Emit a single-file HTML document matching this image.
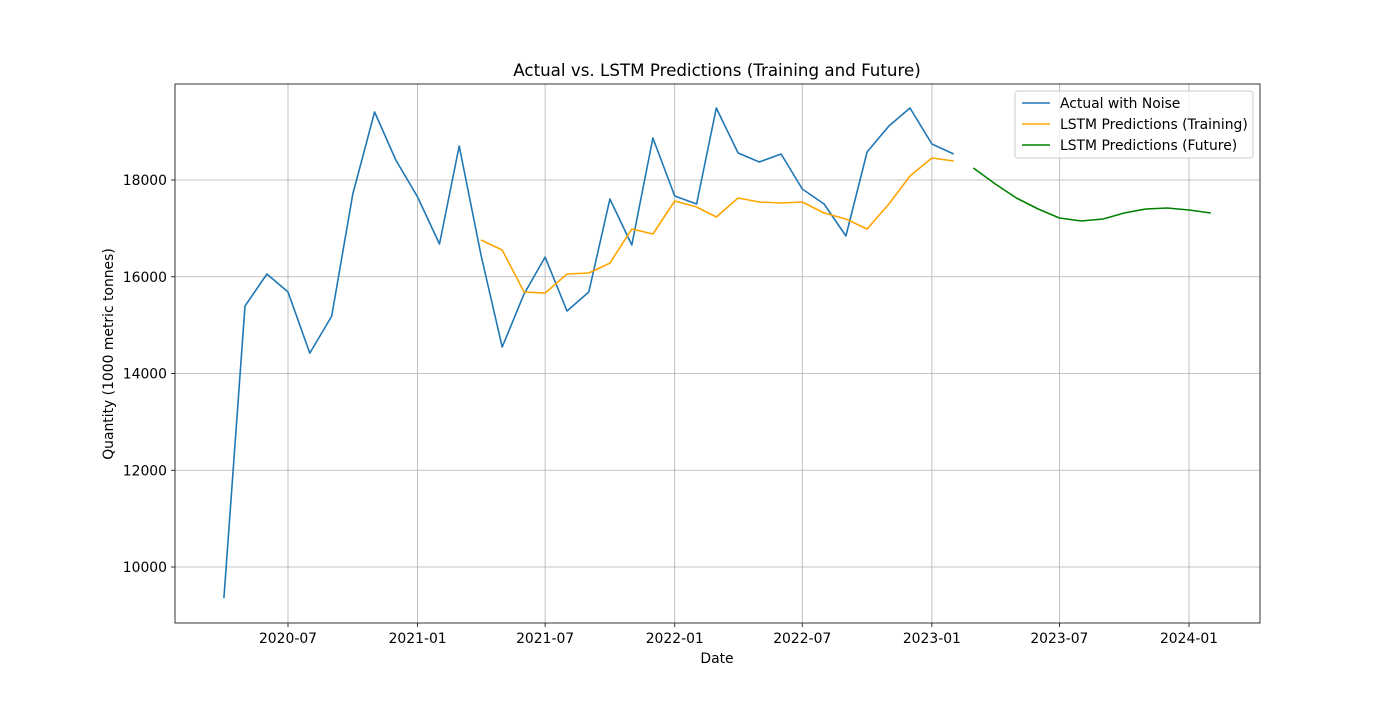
<!DOCTYPE html>
<html><head><meta charset="utf-8"><style>
body{margin:0;background:#fff;}
svg text{font-family:"DejaVu Sans","Liberation Sans",sans-serif;}
</style></head><body>
<svg id="chart" width="1400" height="700" xmlns="http://www.w3.org/2000/svg"></svg>
<script>
const actualDates=["2020-04","2020-05","2020-06","2020-07","2020-08","2020-09","2020-10","2020-11","2020-12","2021-01","2021-02","2021-03","2021-04","2021-05","2021-06","2021-07","2021-08","2021-09","2021-10","2021-11","2021-12","2022-01","2022-02","2022-03","2022-04","2022-05","2022-06","2022-07","2022-08","2022-09","2022-10","2022-11","2022-12","2023-01","2023-02"];
const actualValues=[9355,15394,16056,15684,14422,15187,17710,19406,18414,17648,16676,18703,16449,14546,15642,16407,15291,15684,17607,16656,18869,17669,17504,19489,18558,18372,18538,17814,17504,16842,18579,19117,19489,18745,18538];
const trainDates=["2021-04","2021-05","2021-06","2021-07","2021-08","2021-09","2021-10","2021-11","2021-12","2022-01","2022-02","2022-03","2022-04","2022-05","2022-06","2022-07","2022-08","2022-09","2022-10","2022-11","2022-12","2023-01","2023-02"];
const trainValues=[16759,16552,15684,15663,16056,16077,16283,16987,16883,17566,17442,17235,17628,17545,17524,17545,17317,17193,16987,17504,18083,18455,18393];
const futureDates=["2023-03","2023-04","2023-05","2023-06","2023-07","2023-08","2023-09","2023-10","2023-11","2023-12","2024-01","2024-02"];
const futureValues=[18248,17917,17628,17400,17214,17152,17193,17317,17400,17421,17380,17317];
const xTicks=["2020-07","2021-01","2021-07","2022-01","2022-07","2023-01","2023-07","2024-01"];
const yTicks=[10000,12000,14000,16000,18000];

const svg=document.getElementById('chart');
const NS="http://www.w3.org/2000/svg";
const L=175,R=1260,T=84,B=623;
const d0=Date.UTC(2020,6,1), pxPerDay=(1189-288)/((Date.UTC(2024,0,1)-d0)/864e5);
function ms(s){const[p,q]=s.split('-').map(Number);return Date.UTC(p,q-1,1);}
function xs(s){return 288+(ms(s)-d0)/864e5*pxPerDay;}
function ysc(v){return 567+(v-10000)*(180-567)/8000;}
function el(tag,attrs,parent){const e=document.createElementNS(NS,tag);for(const k in attrs)e.setAttribute(k,attrs[k]);(parent||svg).appendChild(e);return e;}

const grid=el('g',{});


xTicks.forEach(t=>{const x=xs(t);
 const g=el('line',{x1:x,x2:x,y1:T,y2:B,stroke:'#b0b0b0','stroke-width':0.8},grid);
 
 
 el('line',{x1:x,x2:x,y1:B,y2:B+4,stroke:'#000','stroke-width':0.8});
 const tx=el('text',{x:x,y:B+20,'font-size':13.9,'text-anchor':'middle'});tx.textContent=t;
 
 
});
yTicks.forEach(t=>{const y=ysc(t);
 const g=el('line',{x1:L,x2:R,y1:y,y2:y,stroke:'#b0b0b0','stroke-width':0.8},grid);
 
 
 el('line',{x1:L-4,x2:L,y1:y,y2:y,stroke:'#000','stroke-width':0.8});
 const tx=el('text',{x:L-8,y:y+5,'font-size':13.9,'text-anchor':'end'});tx.textContent=t;
 
 
});
function line(dates,vals,color,name){
 const p=dates.map((d,i)=>xs(d).toFixed(1)+','+ysc(vals[i]).toFixed(1)).join(' ');
 const e=el('polyline',{points:p,fill:'none',stroke:color,'stroke-width':1.6,'stroke-linejoin':'round'});
 
 
}
line(actualDates,actualValues,'#1f77b4','actual-line');
line(trainDates,trainValues,'#ffa500','training-prediction-line');
line(futureDates,futureValues,'#008000','future-prediction-line');
const frame=el('rect',{x:L,y:T,width:R-L,height:B-T,fill:'none',stroke:'#000','stroke-width':0.8});


let t=el('text',{x:717,y:76,'font-size':16.7,'text-anchor':'middle'});t.textContent='Actual vs. LSTM Predictions (Training and Future)';


t=el('text',{x:717,y:663,'font-size':13.9,'text-anchor':'middle'});t.textContent='Date';


t=el('text',{x:113,y:354,'font-size':13.9,'text-anchor':'middle',transform:'rotate(-90 113 354)'});t.textContent='Quantity (1000 metric tonnes)';


const lg=el('g',{});


el('rect',{x:1015,y:91,width:238,height:67,rx:3,fill:'#fff','fill-opacity':0.8,stroke:'#ccc'},lg);
[['Actual with Noise','#1f77b4'],['LSTM Predictions (Training)','#ffa500'],['LSTM Predictions (Future)','#008000']].forEach((it,i)=>{
 const y=103+i*21;
 const e=el('line',{x1:1022,x2:1050,y1:y,y2:y,stroke:it[1],'stroke-width':1.6},lg);
 
 
 const tx=el('text',{x:1060,y:y+5,'font-size':13.9},lg);tx.textContent=it[0];
 
 
});
</script>
</body></html>
